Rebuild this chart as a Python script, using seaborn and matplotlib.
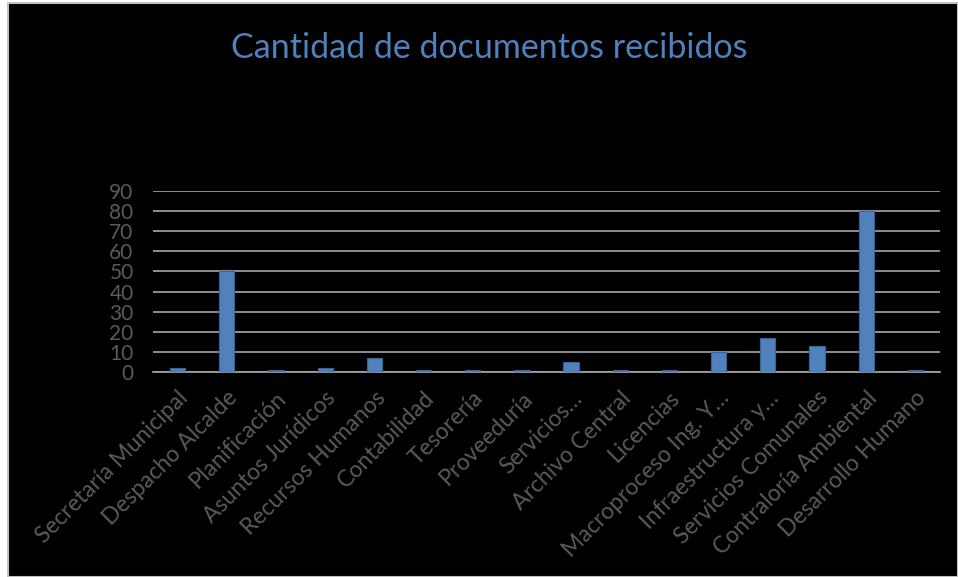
import matplotlib
matplotlib.use("Agg")
import matplotlib.pyplot as plt
import seaborn as sns
import pandas as pd
from matplotlib.patches import Rectangle

categories = ["Secretaría Municipal", "Despacho Alcalde", "Planificación", "Asuntos Jurídicos",
              "Recursos Humanos", "Contabilidad", "Tesorería", "Proveeduría", "Servicios…",
              "Archivo Central", "Licencias", "Macroproceso Ing. Y…", "Infraestructura y…",
              "Servicios Comunales", "Contraloría Ambiental", "Desarrollo Humano"]
values = [2, 50, 1, 2, 7, 1, 1, 1, 5, 1, 1, 10, 17, 13, 80, 1]
yticks = [0, 10, 20, 30, 40, 50, 60, 70, 80, 90]
title = "Cantidad de documentos recibidos"

sns.set_theme(style="dark")
plt.rcParams['font.family'] = ['Lato', 'DejaVu Sans']

df = pd.DataFrame({"cat": categories, "val": values})

W, H = 958, 577
fig = plt.figure(figsize=(W / 100, H / 100), dpi=100, facecolor="white")
# black chart area with gray frame
bg = Rectangle((8 / W, 0), 1 - 8 / W, 1 - 3 / H, transform=fig.transFigure,
               facecolor="black", edgecolor="#c0c0c0", linewidth=1.5, zorder=-10)
fig.patches.append(bg)

ax = fig.add_axes([153 / W, 1 - 372 / H, (940 - 153) / W, (372 - 191) / H], zorder=5)
ax.set_facecolor("black")
sns.barplot(data=df, x="cat", y="val", ax=ax, color="#4f81bd", width=0.31,
            edgecolor="#3a6494", linewidth=0.8, saturation=1, zorder=3)
ax.set_ylim(0, 90)
ax.set_xlim(-0.5, len(categories) - 0.5)
ax.set_yticks(yticks)
ax.set_yticklabels([str(t) for t in yticks], fontsize=15, color="#5a5a5a")
ax.set_xticks(range(len(categories)))
ax.set_xticklabels(categories, rotation=45, ha="right", rotation_mode="anchor",
                   fontsize=16.5, color="#5a5a5a")
ax.tick_params(axis="y", length=0, pad=14)
ax.tick_params(axis="x", length=0, pad=11)
ax.set_xlabel("")
ax.set_ylabel("")
ax.yaxis.grid(True, color="#a6a6a6", linewidth=1.2, zorder=0)
ax.xaxis.grid(False)
for s in ["top", "right", "left"]:
    ax.spines[s].set_visible(False)
ax.spines["bottom"].set_visible(True)
ax.spines["bottom"].set_color("#a6a6a6")
ax.spines["bottom"].set_linewidth(1.2)
ax.set_axisbelow(True)

fig.text(489 / W, 1 - 48 / H, title, ha="center", va="center", fontsize=24.5,
         color="#4f81bd", zorder=6)

fig.savefig("out.png", dpi=100, facecolor="white")
